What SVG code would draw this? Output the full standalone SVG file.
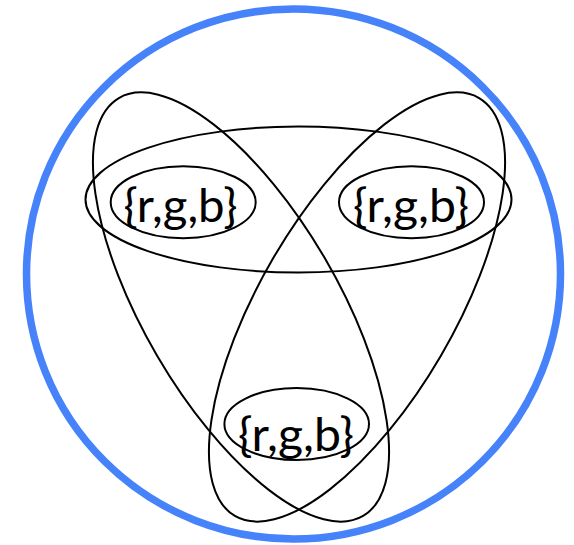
<svg xmlns="http://www.w3.org/2000/svg" width="574" height="545" viewBox="0 0 574 545">
<style>
.set{fill:none;stroke:#000;stroke-width:2}
.lbl{font-family:Lato,"Open Sans","Liberation Sans",sans-serif;font-size:47px;fill:#000;text-anchor:middle}
</style>
<rect width="574" height="545" fill="#fff"/>
<g id="universe"><ellipse cx="293.5" cy="274" rx="267" ry="265" fill="none" stroke="#4682fa" stroke-width="7.5"/></g>
<g id="top-set"><ellipse class="set" cx="298.5" cy="199.5" rx="213" ry="73"/></g>
<g id="left-set"><ellipse class="set" cx="241" cy="307" rx="242" ry="97" transform="rotate(59.7 241 307)"/></g>
<g id="right-set"><ellipse class="set" cx="357" cy="307" rx="242" ry="97" transform="rotate(-59.7 357 307)"/></g>
<g id="node-left"><ellipse class="set" cx="183.2" cy="202.2" rx="72.5" ry="36"/><text class="lbl" x="180.5" y="221.5" textLength="114" lengthAdjust="spacingAndGlyphs">{r,g,b}</text></g>
<g id="node-right"><ellipse class="set" cx="411.5" cy="202.2" rx="72.5" ry="36"/><text class="lbl" x="411" y="221.5" textLength="116" lengthAdjust="spacingAndGlyphs">{r,g,b}</text></g>
<g id="node-bottom"><ellipse class="set" cx="296.7" cy="424" rx="72.3" ry="36"/><text class="lbl" x="296" y="451" textLength="116" lengthAdjust="spacingAndGlyphs">{r,g,b}</text></g>
<g id="connectors"></g>
</svg>
